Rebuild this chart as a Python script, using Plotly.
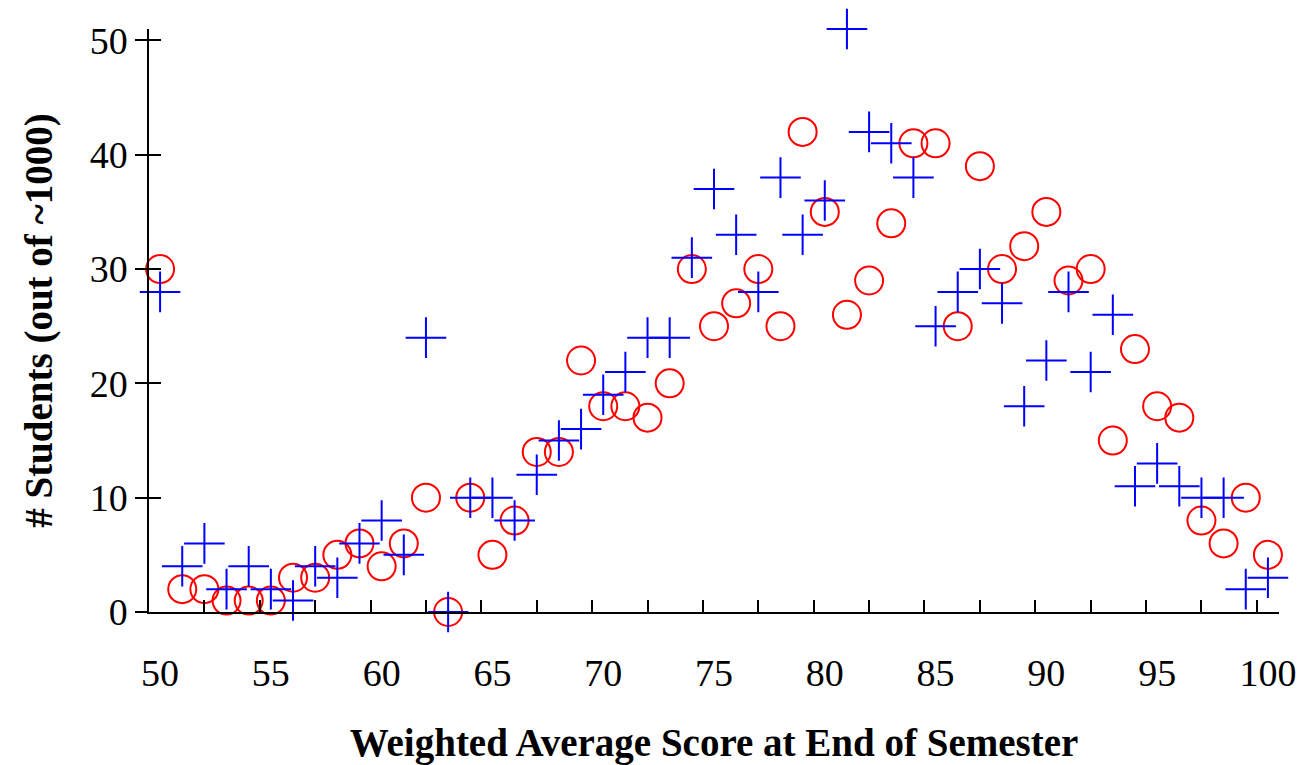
import plotly.graph_objects as go

# Scores (x categories)
scores = [50, 51, 52, 53, 54, 55, 56, 57, 58, 59,
          60, 61, 62, 63, 64, 65, 66, 67, 68, 69,
          70, 71, 72, 73, 74, 75, 76, 77, 78, 79,
          80, 81, 82, 83, 84, 85, 86, 87, 88, 89,
          90, 91, 92, 93, 94, 95, 96, 97, 98, 99, 100]

# Red open circles
circle_counts = [30, 2, 2, 1, 1, 1, 3, 3, 5, 6,
                 4, 6, 10, 0, 10, 5, 8, 14, 14, 22,
                 18, 18, 17, 20, 30, 25, 27, 30, 25, 42,
                 35, 26, 29, 34, 41, 41, 25, 39, 30, 32,
                 35, 29, 30, 15, 23, 18, 17, 8, 6, 10, 5]

# Blue crosses
cross_counts = [28, 4, 6, 2, 4, 2, 1, 4, 3, 6,
                8, 5, 24, 0, 10, 10, 8, 12, 15, 16,
                19, 21, 24, 24, 31, 37, 33, 28, 38, 33,
                36, 51, 42, 41, 38, 25, 28, 30, 27, 18,
                22, 28, 21, 26, 11, 13, 11, 10, 10, 2, 3]

x_tick_labels = ["50", "55", "60", "65", "70", "75", "80", "85", "90", "95", "100"]
x_label_vals = [50, 55, 60, 65, 70, 75, 80, 85, 90, 95, 100]
y_tick_vals = [0, 10, 20, 30, 40, 50]

X_RANGE = [49.5, 100.5]
Y_RANGE = [0, 51]
FONT = "Liberation Serif"

fig = go.Figure()
fig.add_trace(go.Scatter(
    x=scores, y=circle_counts, mode="markers", name="circles",
    marker=dict(symbol="circle-open", size=28, color="#ff0000",
                line=dict(width=2, color="#ff0000")),
    xaxis="x", yaxis="y", showlegend=False, hoverinfo="x+y",
    cliponaxis=False))
fig.add_trace(go.Scatter(
    x=scores, y=cross_counts, mode="markers", name="crosses",
    marker=dict(symbol="cross-thin-open", size=29, color="#0000ff",
                line=dict(width=2, color="#0000ff")),
    xaxis="x2", yaxis="y2", showlegend=False, hoverinfo="x+y",
    cliponaxis=False))

fig.update_layout(
    width=1313, height=765,
    margin=dict(l=149, r=34, t=29, b=153, autoexpand=False),
    paper_bgcolor="white", plot_bgcolor="white",
    font=dict(family=FONT, color="black", size=38),
    showlegend=False,
    xaxis=dict(
        range=X_RANGE, showgrid=False, zeroline=False,
        showline=True, linecolor="black", linewidth=1.5,
        tickmode="linear", tick0=49.5, dtick=2.5,
        ticks="inside", ticklen=12, tickwidth=1.5, tickcolor="black",
        showticklabels=False, fixedrange=True,
    ),
    xaxis2=dict(
        range=X_RANGE, overlaying="x", anchor="y2", side="bottom",
        showgrid=False, zeroline=False, showline=False,
        tickmode="array", tickvals=x_label_vals, ticktext=x_tick_labels,
        ticks="outside", ticklen=27, tickcolor="rgba(0,0,0,0)",
        tickfont=dict(family=FONT, size=38, color="black"),
        title=dict(text="Weighted Average Score at End of Semester",
                   font=dict(family=FONT, size=39, color="black", weight="bold"),
                   standoff=45),
        automargin=False, fixedrange=True,
    ),
    yaxis=dict(
        range=Y_RANGE, showgrid=False, zeroline=False,
        showline=True, linecolor="black", linewidth=1.5,
        tickmode="array", tickvals=y_tick_vals,
        ticks="outside", ticklen=12, tickwidth=1.5, tickcolor="black",
        tickfont=dict(family=FONT, size=38, color="black"),
        title=dict(text="# Students (out of ~1000)",
                   font=dict(family=FONT, size=39, color="black", weight="bold"),
                   standoff=25),
        automargin=False, fixedrange=True,
    ),
    yaxis2=dict(
        range=Y_RANGE, overlaying="y", anchor="x2", side="left",
        showgrid=False, zeroline=False, showline=False,
        tickmode="array", tickvals=y_tick_vals,
        ticks="inside", ticklen=12, tickwidth=1.5, tickcolor="black",
        showticklabels=False, fixedrange=True,
    ),
)

fig.write_html("out.html")
